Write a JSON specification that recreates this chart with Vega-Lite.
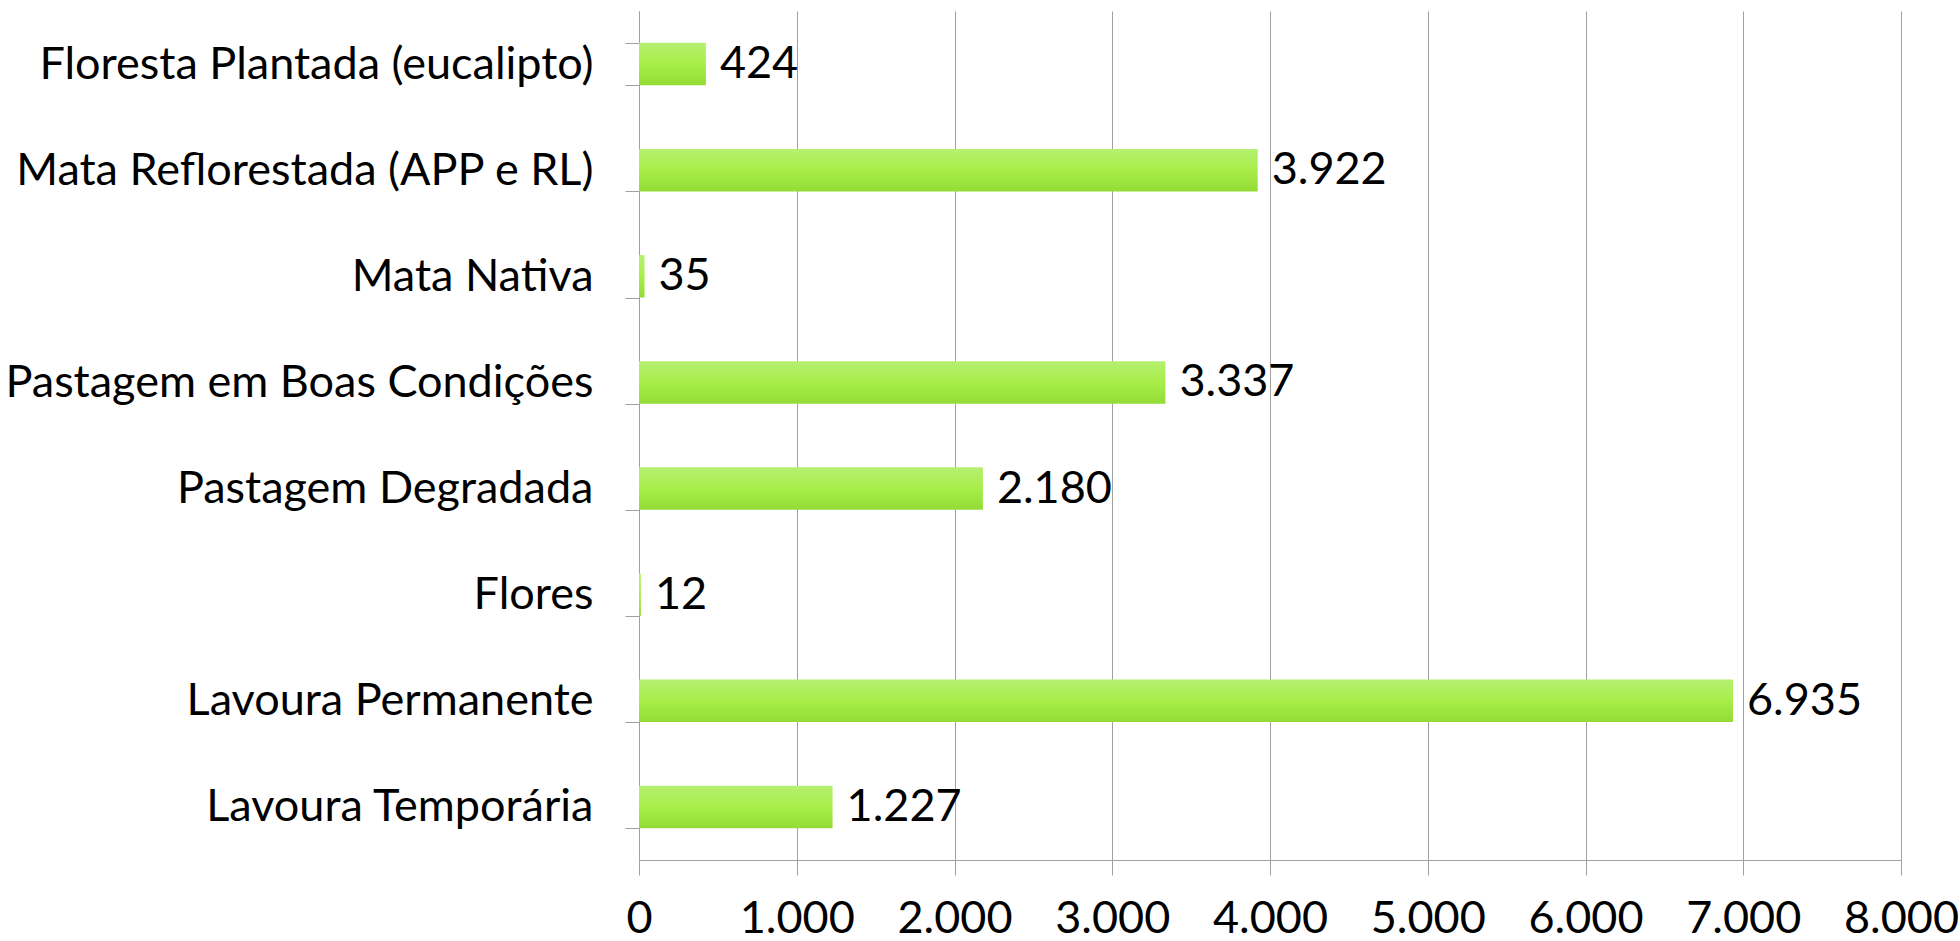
{
  "$schema": "https://vega.github.io/schema/vega-lite/v6.json",
  "width": 1262,
  "height": 849,
  "autosize": {"type": "none"},
  "padding": {"left": 639, "top": 11, "right": 59, "bottom": 81},
  "background": "white",
  "data": {
    "values": [
      {"categoria": "Floresta Plantada (eucalipto)", "area": 424},
      {"categoria": "Mata Reflorestada (APP e RL)", "area": 3922},
      {"categoria": "Mata Nativa", "area": 35},
      {"categoria": "Pastagem em Boas Condições", "area": 3337},
      {"categoria": "Pastagem Degradada", "area": 2180},
      {"categoria": "Flores", "area": 12},
      {"categoria": "Lavoura Permanente", "area": 6935},
      {"categoria": "Lavoura Temporária", "area": 1227}
    ]
  },
  "encoding": {
    "y": {
      "field": "categoria",
      "type": "nominal",
      "sort": null,
      "scale": {"paddingInner": 0.6, "paddingOuter": 0.3},
      "axis": {
        "title": null,
        "labelFont": "Lato",
        "labelFontSize": 45,
        "labelColor": "#000000",
        "labelPadding": 32,
        "tickSize": 14,
        "tickBand": "extent",
        "tickColor": "#a0a0a0",
        "domainColor": "#a0a0a0",
        "grid": false,
        "labelLimit": 700
      }
    },
    "x": {
      "field": "area",
      "type": "quantitative",
      "scale": {"domain": [0, 8000], "nice": false},
      "axis": {
        "title": null,
        "values": [0, 1000, 2000, 3000, 4000, 5000, 6000, 7000, 8000],
        "format": ",.0f",
        "labelFont": "Lato",
        "labelFontSize": 45,
        "labelColor": "#000000",
        "labelPadding": 21,
        "tickSize": 15,
        "tickColor": "#a0a0a0",
        "domainColor": "#a0a0a0",
        "grid": true,
        "gridColor": "#a0a0a0",
        "labelFlush": false,
        "labelOverlap": false
      }
    }
  },
  "layer": [
    {
      "mark": {
        "type": "bar",
        "color": {
          "gradient": "linear",
          "x1": 0, "y1": 0, "x2": 0, "y2": 1,
          "stops": [
            {"offset": 0, "color": "#b5f071"},
            {"offset": 0.5, "color": "#a8ee48"},
            {"offset": 1, "color": "#95db35"}
          ]
        }
      }
    },
    {
      "mark": {"type": "text", "align": "left", "baseline": "middle", "dx": 14, "font": "Lato", "fontSize": 45, "color": "#000000"},
      "encoding": {"text": {"field": "area", "type": "quantitative", "format": ",.0f"}}
    }
  ],
  "config": {
    "locale": {
      "number": {"decimal": ",", "thousands": ".", "grouping": [3], "currency": ["R$", ""]}
    },
    "view": {"stroke": null}
  }
}
